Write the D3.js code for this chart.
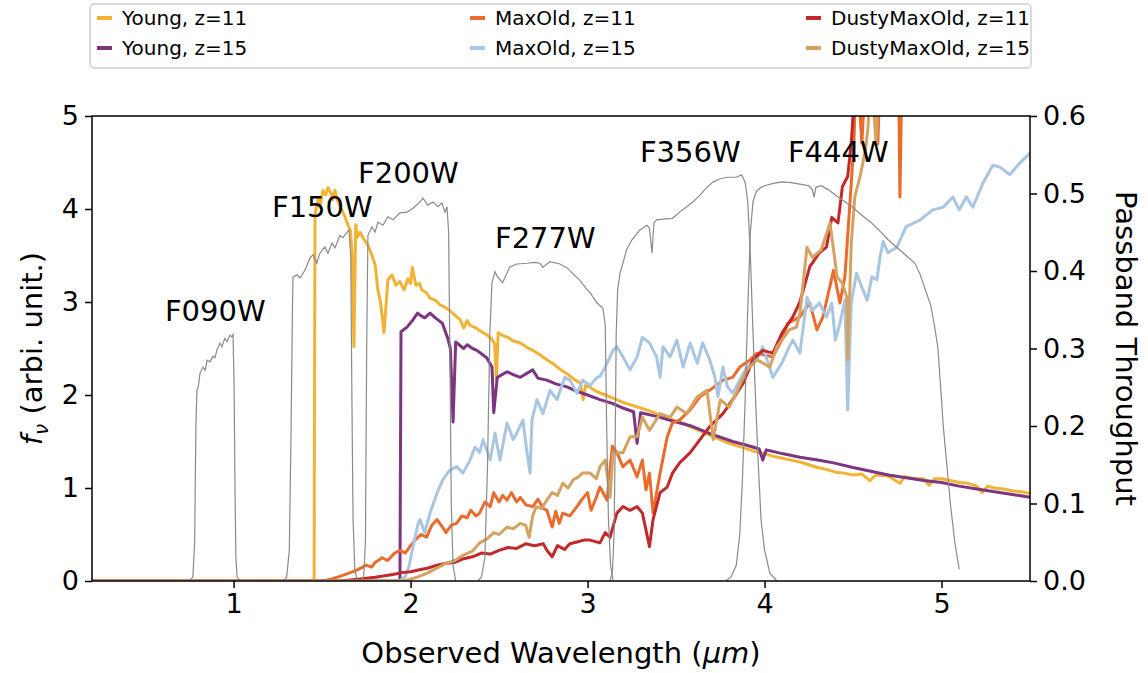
<!DOCTYPE html>
<html lang="en">
<head>
<meta charset="UTF-8">
<title>Model spectra and NIRCam passbands</title>
<script src="https://cdn.jsdelivr.net/npm/d3@7"></script>
<style>
  body { margin: 0; background: #fff; }
  svg text { font-family: "DejaVu Sans", sans-serif; fill: #000; }
  .tick text { font-size: 27px; }
  .tick line { stroke: #000; stroke-width: 1.5px; }
  .spec { fill: none; stroke-width: 3px; stroke-linejoin: round; }
  .band { fill: none; stroke: #8a8a8a; stroke-width: 1.2px; }
</style>
</head>
<body>
<script>
// ---- data: [wavelength (um), f_nu] ----
const young11 = [[0.2,0],[1.455,0],[1.46,3.94],[1.477,4.1],[1.49,4.05],[1.505,4.2],[1.52,4.15],[1.533,4.23],[1.55,4.17],[1.56,4.1],[1.573,4.2],[1.585,4.1],[1.6,4.04],[1.624,3.94],[1.646,3.83],[1.66,3.77],[1.67,3.5],[1.68,2.52],[1.69,3.83],[1.70,3.7],[1.714,3.75],[1.737,3.67],[1.76,3.61],[1.782,3.5],[1.80,3.4],[1.815,3.13],[1.83,3.0],[1.85,2.67],[1.872,3.24],[1.895,3.29],[1.917,3.18],[1.94,3.22],[1.963,3.13],[1.985,3.25],[2.0,3.2],[2.01,3.37],[2.03,3.18],[2.05,3.2],[2.064,3.13],[2.09,3.1],[2.11,3.04],[2.14,3.02],[2.166,2.97],[2.19,2.95],[2.22,2.91],[2.25,2.86],[2.28,2.81],[2.3,2.72],[2.32,2.8],[2.335,2.75],[2.37,2.72],[2.40,2.68],[2.43,2.65],[2.46,2.6],[2.475,2.55],[2.485,2.16],[2.495,2.67],[2.52,2.64],[2.55,2.62],[2.58,2.58],[2.62,2.56],[2.66,2.51],[2.7,2.47],[2.74,2.42],[2.77,2.38],[2.81,2.33],[2.85,2.27],[2.89,2.22],[2.93,2.16],[2.96,2.13],[2.975,1.95],[2.99,2.11],[3.05,2.04],[3.1,2.0],[3.15,1.96],[3.2,1.92],[3.25,1.89],[3.3,1.86],[3.35,1.83],[3.39,1.80],[3.45,1.76],[3.5,1.72],[3.55,1.69],[3.58,1.66],[3.64,1.61],[3.7,1.56],[3.75,1.52],[3.8,1.48],[3.85,1.45],[3.9,1.42],[3.95,1.39],[4.0,1.37],[4.05,1.34],[4.1,1.32],[4.15,1.3],[4.2,1.28],[4.25,1.25],[4.3,1.22],[4.35,1.2],[4.4,1.17],[4.45,1.16],[4.5,1.14],[4.55,1.15],[4.595,1.08],[4.63,1.14],[4.7,1.13],[4.765,1.05],[4.79,1.12],[4.85,1.1],[4.9,1.1],[4.93,1.03],[4.96,1.1],[5.0,1.1],[5.05,1.08],[5.1,1.06],[5.15,1.05],[5.2,1.02],[5.23,0.95],[5.26,1.02],[5.3,1.0],[5.35,0.99],[5.4,0.97],[5.45,0.96],[5.5,0.94]];
const young15 = [[0.2,0],[1.94,0],[1.946,2.68],[1.98,2.73],[2.01,2.8],[2.04,2.88],[2.06,2.85],[2.08,2.83],[2.11,2.88],[2.14,2.83],[2.18,2.77],[2.21,2.61],[2.225,2.5],[2.24,1.71],[2.255,2.57],[2.3,2.5],[2.32,2.54],[2.35,2.5],[2.375,2.48],[2.43,2.4],[2.46,2.3],[2.47,1.81],[2.49,2.19],[2.545,2.25],[2.58,2.22],[2.62,2.19],[2.69,2.27],[2.72,2.18],[2.77,2.16],[2.82,2.12],[2.88,2.09],[2.94,2.04],[3.0,2.0],[3.07,1.95],[3.14,1.91],[3.2,1.86],[3.26,1.82],[3.28,1.48],[3.3,1.81],[3.39,1.77],[3.48,1.72],[3.58,1.67],[3.7,1.58],[3.82,1.5],[3.9,1.46],[3.97,1.42],[3.99,1.3],[4.01,1.41],[4.1,1.37],[4.2,1.33],[4.3,1.3],[4.39,1.27],[4.5,1.22],[4.6,1.18],[4.7,1.14],[4.8,1.11],[4.9,1.08],[5.0,1.06],[5.1,1.02],[5.2,0.99],[5.3,0.96],[5.4,0.93],[5.5,0.9]];
const maxOld11 = [[0.2,0],[1.5,0],[1.55,0.02],[1.6,0.05],[1.66,0.09],[1.7,0.12],[1.75,0.17],[1.78,0.15],[1.8,0.2],[1.84,0.25],[1.87,0.22],[1.91,0.3],[1.94,0.33],[1.97,0.3],[2.0,0.38],[2.03,0.45],[2.06,0.5],[2.09,0.47],[2.12,0.6],[2.15,0.66],[2.18,0.58],[2.2,0.52],[2.23,0.6],[2.26,0.62],[2.29,0.7],[2.32,0.68],[2.34,0.76],[2.37,0.7],[2.39,0.73],[2.42,0.85],[2.45,0.8],[2.47,0.95],[2.5,0.85],[2.52,0.92],[2.545,0.87],[2.57,0.95],[2.6,0.85],[2.62,0.9],[2.65,0.82],[2.69,0.8],[2.72,0.88],[2.75,0.78],[2.77,0.76],[2.8,0.58],[2.82,0.75],[2.84,0.62],[2.86,0.73],[2.9,0.7],[2.94,0.8],[2.97,0.88],[3.0,0.95],[3.02,0.76],[3.05,0.9],[3.07,1.01],[3.11,0.87],[3.14,1.45],[3.166,1.38],[3.2,1.23],[3.24,1.3],[3.28,1.12],[3.31,1.3],[3.33,0.98],[3.35,1.16],[3.37,0.73],[3.39,0.95],[3.41,1.16],[3.45,1.55],[3.48,1.7],[3.52,1.73],[3.58,1.84],[3.635,1.98],[3.69,2.05],[3.765,2.16],[3.82,2.19],[3.86,2.3],[3.92,2.38],[3.957,2.45],[4.0,2.43],[4.047,2.41],[4.1,2.6],[4.13,2.77],[4.2,2.84],[4.256,2.99],[4.296,2.7],[4.33,2.84],[4.39,3.34],[4.426,2.99],[4.454,3.27],[4.48,3.99],[4.505,4.71],[4.52,5.6],[4.55,4.71],[4.58,5.8],[4.62,5.9],[4.64,4.7],[4.66,5.8],[4.72,6],[4.755,5.9],[4.765,4.13],[4.78,5.9],[5.0,6.2],[5.5,6.5]];
const maxOld15 = [[0.2,0],[1.94,0],[1.97,0.05],[1.99,0.15],[2.014,0.37],[2.04,0.6],[2.053,0.66],[2.08,0.52],[2.11,0.73],[2.15,0.95],[2.183,1.09],[2.22,1.19],[2.26,1.23],[2.296,1.16],[2.336,1.3],[2.364,1.44],[2.39,1.38],[2.41,1.52],[2.45,1.3],[2.477,1.59],[2.505,1.3],[2.545,1.7],[2.58,1.52],[2.6,1.59],[2.635,1.73],[2.658,1.38],[2.675,1.16],[2.686,1.73],[2.714,1.95],[2.748,1.8],[2.788,2.05],[2.827,1.95],[2.872,2.19],[2.9,2.16],[2.94,2.02],[2.974,2.16],[3.014,2.1],[3.053,2.19],[3.07,2.2],[3.1,2.3],[3.144,2.48],[3.166,2.52],[3.2,2.41],[3.24,2.27],[3.28,2.41],[3.31,2.62],[3.35,2.56],[3.39,2.41],[3.41,2.19],[3.426,2.52],[3.466,2.41],[3.505,2.59],[3.54,2.3],[3.58,2.56],[3.62,2.34],[3.65,2.56],[3.69,2.38],[3.72,2.19],[3.737,1.98],[3.765,2.3],[3.79,2.09],[3.82,2.02],[3.86,2.16],[3.9,2.3],[3.957,2.38],[3.99,2.52],[4.047,2.19],[4.1,2.35],[4.14,2.52],[4.16,2.59],[4.2,2.45],[4.24,3.05],[4.27,2.91],[4.31,2.99],[4.35,2.84],[4.38,2.99],[4.4,2.59],[4.426,2.77],[4.454,3.02],[4.47,1.84],[4.49,2.99],[4.52,3.31],[4.556,3.13],[4.58,3.02],[4.607,3.27],[4.635,3.24],[4.652,3.48],[4.67,3.65],[4.697,3.53],[4.748,3.59],[4.8,3.81],[4.878,3.88],[4.95,3.99],[5.01,4.02],[5.064,4.13],[5.1,3.99],[5.14,4.13],[5.177,4.02],[5.234,4.28],[5.29,4.47],[5.33,4.45],[5.386,4.37],[5.44,4.49],[5.5,4.6]];
const dusty11 = [[0.2,0],[1.6,0],[1.7,0.02],[1.8,0.04],[1.9,0.07],[1.95,0.09],[2.0,0.1],[2.05,0.12],[2.1,0.14],[2.15,0.17],[2.2,0.19],[2.25,0.2],[2.3,0.24],[2.35,0.26],[2.4,0.3],[2.45,0.29],[2.5,0.33],[2.55,0.36],[2.6,0.35],[2.65,0.4],[2.7,0.38],[2.75,0.4],[2.77,0.33],[2.8,0.26],[2.83,0.38],[2.87,0.34],[2.9,0.4],[2.94,0.42],[2.98,0.44],[3.014,0.44],[3.07,0.41],[3.1,0.52],[3.127,0.47],[3.166,0.73],[3.2,0.8],[3.24,0.76],[3.28,0.8],[3.31,0.73],[3.35,0.37],[3.37,0.66],[3.41,0.95],[3.45,1.01],[3.48,1.16],[3.52,1.27],[3.58,1.38],[3.635,1.52],[3.69,1.66],[3.765,1.8],[3.82,1.95],[3.88,2.13],[3.935,2.38],[3.99,2.48],[4.047,2.45],[4.1,2.67],[4.16,2.84],[4.2,3.0],[4.256,3.38],[4.31,3.53],[4.35,3.59],[4.38,3.91],[4.415,3.85],[4.44,4.24],[4.47,4.35],[4.49,4.71],[4.5,5.0],[4.52,5.8],[4.6,6.2],[5.5,7]];
const dusty15 = [[0.2,0],[1.95,0],[2.0,0.02],[2.05,0.05],[2.1,0.09],[2.15,0.14],[2.2,0.19],[2.25,0.22],[2.3,0.28],[2.35,0.32],[2.39,0.41],[2.43,0.45],[2.47,0.52],[2.5,0.5],[2.545,0.58],[2.58,0.56],[2.62,0.62],[2.65,0.6],[2.67,0.47],[2.69,0.7],[2.71,0.8],[2.74,0.78],[2.77,0.87],[2.8,0.95],[2.83,0.92],[2.86,1.05],[2.89,1.0],[2.92,1.09],[2.95,1.12],[2.97,1.16],[3.014,1.16],[3.05,1.1],[3.07,1.23],[3.1,1.3],[3.127,0.9],[3.144,1.38],[3.2,1.38],[3.24,1.55],[3.28,1.55],[3.31,1.76],[3.35,1.62],[3.41,1.8],[3.466,1.76],[3.505,1.87],[3.56,1.8],[3.62,1.98],[3.675,2.05],[3.71,1.52],[3.75,1.95],[3.8,1.87],[3.84,2.02],[3.9,2.27],[3.957,2.38],[4.03,2.3],[4.07,2.52],[4.14,2.7],[4.18,2.73],[4.2,2.88],[4.24,3.59],[4.27,3.48],[4.32,3.56],[4.37,3.85],[4.41,3.27],[4.44,3.2],[4.465,3.05],[4.47,2.38],[4.49,3.63],[4.51,4.13],[4.54,4.35],[4.57,4.63],[4.585,4.88],[4.6,5.6],[4.63,4.7],[4.66,5.8],[5.5,6.5]];

// ---- passband throughputs: [wavelength (um), throughput] ----
const f090w = [[0.75,0],[0.77,0.005],[0.78,0.05],[0.787,0.2],[0.793,0.246],[0.8,0.25],[0.81,0.268],[0.827,0.276],[0.84,0.272],[0.85,0.285],[0.867,0.283],[0.884,0.29],[0.895,0.288],[0.906,0.298],[0.923,0.307],[0.934,0.302],[0.95,0.313],[0.963,0.309],[0.98,0.317],[0.99,0.315],[0.997,0.318],[1.003,0.25],[1.008,0.12],[1.013,0.03],[1.02,0.005],[1.04,0]];
const f150w = [[1.28,0],[1.3,0.005],[1.315,0.04],[1.325,0.2],[1.333,0.36],[1.336,0.392],[1.358,0.395],[1.375,0.391],[1.403,0.401],[1.432,0.417],[1.449,0.421],[1.47,0.41],[1.488,0.423],[1.516,0.431],[1.533,0.423],[1.556,0.436],[1.573,0.43],[1.601,0.446],[1.618,0.443],[1.641,0.45],[1.652,0.453],[1.662,0.42],[1.668,0.25],[1.675,0.08],[1.685,0.015],[1.70,0]];
const f200w = [[1.72,0],[1.735,0.005],[1.745,0.05],[1.752,0.3],[1.759,0.446],[1.782,0.457],[1.799,0.45],[1.816,0.463],[1.844,0.459],[1.872,0.47],[1.9,0.466],[1.94,0.475],[1.98,0.476],[2.014,0.481],[2.053,0.489],[2.07,0.494],[2.098,0.485],[2.127,0.489],[2.155,0.483],[2.177,0.488],[2.194,0.476],[2.206,0.483],[2.215,0.45],[2.222,0.3],[2.23,0.1],[2.24,0.02],[2.255,0]];
const f277w = [[2.38,0],[2.40,0.005],[2.42,0.03],[2.435,0.15],[2.448,0.32],[2.46,0.385],[2.477,0.399],[2.49,0.393],[2.52,0.385],[2.56,0.405],[2.6,0.409],[2.658,0.41],[2.70,0.411],[2.73,0.41],[2.748,0.405],[2.788,0.412],[2.844,0.409],[2.884,0.404],[2.92,0.396],[2.957,0.388],[2.99,0.378],[3.014,0.372],[3.053,0.359],[3.087,0.352],[3.1,0.33],[3.108,0.2],[3.118,0.08],[3.13,0.02],[3.145,0]];
const f356w = [[3.125,0],[3.14,0.01],[3.15,0.06],[3.156,0.18],[3.162,0.32],[3.17,0.375],[3.183,0.397],[3.2,0.41],[3.22,0.427],[3.25,0.44],[3.296,0.453],[3.336,0.459],[3.35,0.455],[3.364,0.423],[3.375,0.462],[3.39,0.466],[3.43,0.467],[3.48,0.468],[3.52,0.476],[3.56,0.483],[3.6,0.49],[3.635,0.498],[3.67,0.507],[3.71,0.515],[3.75,0.519],[3.79,0.521],[3.84,0.521],[3.87,0.524],[3.89,0.515],[3.905,0.49],[3.92,0.42],[3.935,0.32],[3.95,0.23],[3.965,0.15],[3.98,0.08],[4.0,0.04],[4.03,0.01],[4.07,0]];
const f444w = [[3.78,0],[3.81,0.005],[3.84,0.02],[3.86,0.06],[3.875,0.13],[3.89,0.23],[3.905,0.35],[3.92,0.45],[3.935,0.49],[3.955,0.503],[3.975,0.507],[4.0,0.51],[4.05,0.513],[4.1,0.515],[4.15,0.514],[4.2,0.512],[4.25,0.51],[4.27,0.505],[4.28,0.495],[4.29,0.508],[4.32,0.51],[4.36,0.505],[4.4,0.498],[4.45,0.49],[4.5,0.482],[4.55,0.472],[4.6,0.463],[4.65,0.452],[4.7,0.44],[4.75,0.43],[4.8,0.42],[4.85,0.41],[4.88,0.395],[4.91,0.375],[4.94,0.355],[4.96,0.33],[4.98,0.3],[4.995,0.25],[5.01,0.2],[5.03,0.15],[5.05,0.1],[5.075,0.05],[5.1,0.015]];

const seriesNames = ["Young, z=11", "Young, z=15", "MaxOld, z=11", "MaxOld, z=15", "DustyMaxOld, z=11", "DustyMaxOld, z=15"];
const seriesData = [young11, young15, maxOld11, maxOld15, dusty11, dusty15];
const seriesColors = ["#f2b233", "#7d3581", "#ea6c2c", "#a8c5e2", "#c2292b", "#d5a262"];

const bandNames = ["F090W", "F150W", "F200W", "F277W", "F356W", "F444W"];
const bandData = [f090w, f150w, f200w, f277w, f356w, f444w];
// label anchors (wavelength, throughput) for the passband names
const bandLabelAt = [[0.612,0.3355],[1.217,0.4697],[1.703,0.5135],[2.477,0.4297],[3.296,0.5406],[4.132,0.5410]];

const xTicks = [1, 2, 3, 4, 5];
const yTicks = [0, 1, 2, 3, 4, 5];
const tTicks = [0, 0.1, 0.2, 0.3, 0.4, 0.5, 0.6];

// ---- layout ----
const width = 1148, height = 673;
const plotLeft = 92, plotRight = 1030, plotTop = 116, plotBottom = 581;

const svg = d3.select("body").append("svg")
  .attr("width", width)
  .attr("height", height);

const x = d3.scaleLinear().domain([0.2, 5.5]).range([plotLeft, plotRight]);
const y = d3.scaleLinear().domain([0, 5]).range([plotBottom, plotTop]);
const yT = d3.scaleLinear().domain([0, 0.6]).range([plotBottom, plotTop]);

svg.append("clipPath").attr("id", "plot-clip")
  .append("rect")
  .attr("x", plotLeft).attr("y", plotTop)
  .attr("width", plotRight - plotLeft).attr("height", plotBottom - plotTop);

const plot = svg.append("g").attr("clip-path", "url(#plot-clip)");

const specLine = d3.line().x(d => x(d[0])).y(d => y(d[1]));
const bandLine = d3.line().x(d => x(d[0])).y(d => yT(d[1]));

// spectra
plot.selectAll(".spec")
  .data(seriesData)
  .enter().append("path")
  .attr("class", "spec")
  .attr("stroke", (d, i) => seriesColors[i])
  .attr("d", specLine);

// passbands on the twin axis
plot.selectAll(".band")
  .data(bandData)
  .enter().append("path")
  .attr("class", "band")
  .attr("d", bandLine);

svg.selectAll(".band-label")
  .data(bandNames)
  .enter().append("text")
  .attr("class", "band-label")
  .attr("x", (d, i) => x(bandLabelAt[i][0]))
  .attr("y", (d, i) => yT(bandLabelAt[i][1]))
  .style("font-size", "29px")
  .text(d => d);

// axes
svg.append("g")
  .attr("transform", `translate(0,${plotBottom})`)
  .call(d3.axisBottom(x).tickValues(xTicks).tickFormat(d3.format("d")).tickSize(7).tickPadding(6));

svg.append("g")
  .attr("transform", `translate(${plotLeft},0)`)
  .call(d3.axisLeft(y).tickValues(yTicks).tickFormat(d3.format("d")).tickSize(7).tickPadding(6));

svg.append("g")
  .attr("transform", `translate(${plotRight},0)`)
  .call(d3.axisRight(yT).tickValues(tTicks).tickFormat(d3.format(".1f")).tickSize(7).tickPadding(6));

svg.selectAll(".domain").remove();

// frame
svg.append("rect")
  .attr("x", plotLeft).attr("y", plotTop)
  .attr("width", plotRight - plotLeft).attr("height", plotBottom - plotTop)
  .attr("fill", "none").attr("stroke", "#000").attr("stroke-width", 1.5);

// axis titles
const xl = svg.append("text")
  .attr("x", (plotLeft + plotRight) / 2).attr("y", 663)
  .attr("text-anchor", "middle")
  .style("font-size", "29px");
xl.append("tspan").text("Observed Wavelength (");
xl.append("tspan").style("font-style", "italic").text("μm");
xl.append("tspan").text(")");

const yl = svg.append("text")
  .attr("transform", `translate(42,${(plotTop + plotBottom) / 2}) rotate(-90)`)
  .attr("text-anchor", "middle")
  .style("font-size", "29px");
yl.append("tspan").style("font-style", "italic").text("f");
yl.append("tspan").style("font-style", "italic").style("font-size", "20px").attr("dy", 6).text("ν");
yl.append("tspan").attr("dy", -6).text(" (arbi. unit.)");

svg.append("text")
  .attr("transform", `translate(1116,${(plotTop + plotBottom) / 2}) rotate(90)`)
  .attr("text-anchor", "middle")
  .style("font-size", "29px")
  .text("Passband Throughput");

// legend
const legend = svg.append("g");
legend.append("rect")
  .attr("x", 90).attr("y", 4)
  .attr("width", 941).attr("height", 64)
  .attr("rx", 4)
  .attr("fill", "#fff").attr("stroke", "#d0d0d0").attr("stroke-width", 1.5);

const colX = [97, 470, 806];
const rowY = [18, 48];
seriesNames.forEach((name, i) => {
  const cx = colX[Math.floor(i / 2)], cy = rowY[i % 2];
  legend.append("line")
    .attr("x1", cx).attr("x2", cx + 15)
    .attr("y1", cy).attr("y2", cy)
    .attr("stroke", seriesColors[i]).attr("stroke-width", 4);
  legend.append("text")
    .attr("x", cx + 25).attr("y", cy + 7)
    .style("font-size", "20px")
    .text(name);
});
</script>
</body>
</html>
